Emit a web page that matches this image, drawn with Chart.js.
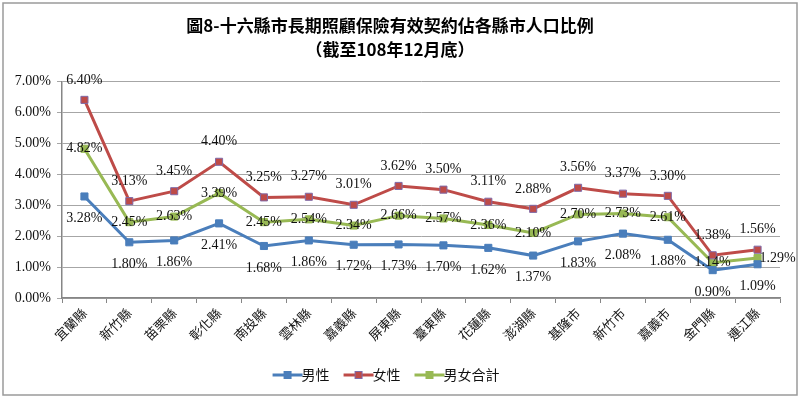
<!DOCTYPE html>
<html>
<head>
<meta charset="utf-8">
<script src="https://cdn.jsdelivr.net/npm/chart.js@4.4.1/dist/chart.umd.min.js"></script>
<style>
  html, body { margin: 0; padding: 0; background: #fff; }
  #wrap { width: 800px; height: 397px; }
</style>
</head>
<body>
<div id="wrap"><canvas id="chart" width="800" height="397"></canvas></div>
<script>
const titleLines = ['圖8-十六縣市長期照顧保險有效契約佔各縣市人口比例', '（截至108年12月底）'];
const counties = ['宜蘭縣', '新竹縣', '苗栗縣', '彰化縣', '南投縣', '雲林縣', '嘉義縣', '屏東縣',
                  '臺東縣', '花蓮縣', '澎湖縣', '基隆市', '新竹市', '嘉義市', '金門縣', '連江縣'];
const seriesNames = ['男性', '女性', '男女合計'];
const male   = [3.28, 1.80, 1.86, 2.41, 1.68, 1.86, 1.72, 1.73, 1.70, 1.62, 1.37, 1.83, 2.08, 1.88, 0.90, 1.09];
const female = [6.40, 3.13, 3.45, 4.40, 3.25, 3.27, 3.01, 3.62, 3.50, 3.11, 2.88, 3.56, 3.37, 3.30, 1.38, 1.56];
const total  = [4.82, 2.45, 2.63, 3.39, 2.45, 2.54, 2.34, 2.66, 2.57, 2.36, 2.10, 2.70, 2.73, 2.61, 1.14, 1.29];
const yMin = 0, yMax = 7, yStep = 1;

const colors = {
    male: '#4A7EBB',
    female: '#BE4B48',
    total: '#98B954',
    grid: '#A6A6A6',
    axis: '#868686',
    text: '#111'
};

const serif = '"Liberation Serif", "DejaVu Serif", serif';
const cjk = '"Noto Sans CJK TC", "Noto Sans CJK SC", sans-serif';

// little legend swatch: line with a square marker, like the Excel legend
function legendSwatch(color, border) {
    const c = document.createElement('canvas');
    c.width = 32; c.height = 12;
    const g = c.getContext('2d');
    g.strokeStyle = color;
    g.lineWidth = 3;
    g.beginPath(); g.moveTo(1, 6); g.lineTo(31, 6); g.stroke();
    g.fillStyle = color;
    g.fillRect(12, 2, 8, 8);
    g.strokeStyle = border; g.lineWidth = 1;
    g.strokeRect(12.5, 2.5, 7, 7);
    return c;
}

// labels next to each point
const pointLabels = {
    id: 'pointLabels',
    afterDatasetsDraw(chart) {
        const ctx = chart.ctx;
        ctx.save();
        ctx.font = '14px ' + serif;
        ctx.fillStyle = colors.text;
        ctx.textBaseline = 'middle';
        chart.data.datasets.forEach((ds, di) => {
            const meta = chart.getDatasetMeta(di);
            meta.data.forEach((pt, i) => {
                const txt = ds.data[i].toFixed(2) + '%';
                let dx = 0, dy = 0;
                ctx.textAlign = 'center';
                if (di === 0) dy = 22;
                else if (di === 1) dy = -20;
                if (di === 2 && i === ds.data.length - 1) { ctx.textAlign = 'left'; dx = 2; }
                ctx.fillText(txt, pt.x + dx, pt.y + dy);
            });
        });
        ctx.restore();
    }
};

const frame = {
    id: 'frame',
    beforeDraw(chart) {
        const ctx = chart.ctx;
        ctx.save();
        ctx.fillStyle = '#fff';
        ctx.fillRect(0, 0, chart.width, chart.height);
        ctx.strokeStyle = '#9a9a9a';
        ctx.lineWidth = 1.5;
        ctx.strokeRect(3, 3, chart.width - 6, chart.height - 5);
        ctx.restore();
    }
};

function lineSet(label, data, color, border) {
    return {
        label: label,
        data: data,
        borderColor: color,
        backgroundColor: color,
        borderWidth: 3,
        pointStyle: 'rect',
        pointRadius: 5,
        pointBackgroundColor: color,
        pointBorderColor: border,
        pointBorderWidth: 1,
        tension: 0,
        fill: false
    };
}

const swatches = [
    legendSwatch(colors.male, '#4A7EBB'),
    legendSwatch(colors.female, '#7F6AA8'),
    legendSwatch(colors.total, '#98B954')
];

new Chart(document.getElementById('chart').getContext('2d'), {
    type: 'line',
    data: {
        labels: counties,
        datasets: [
            lineSet(seriesNames[0], male, colors.male, '#4A7EBB'),
            lineSet(seriesNames[1], female, colors.female, '#7F6AA8'),
            lineSet(seriesNames[2], total, colors.total, '#98B954')
        ]
    },
    options: {
        responsive: false,
        animation: false,
        devicePixelRatio: 1,
        layout: { padding: { left: 0, right: 20, top: 0, bottom: 5 } },
        plugins: {
            title: {
                display: true,
                text: titleLines,
                color: '#000',
                font: { family: cjk, size: 17, weight: 'bold', lineHeight: 1.45 },
                padding: { top: 13, bottom: 19 }
            },
            legend: {
                position: 'bottom',
                labels: {
                    color: colors.text,
                    font: { family: cjk, size: 14 },
                    usePointStyle: true,
                    padding: 22,
                    generateLabels(chart) {
                        const items = Chart.defaults.plugins.legend.labels.generateLabels(chart);
                        items.forEach((it, i) => { it.pointStyle = swatches[i]; });
                        return items;
                    }
                }
            },
            tooltip: { enabled: false }
        },
        scales: {
            x: {
                offset: true,
                grid: {
                    offset: true,
                    drawOnChartArea: false,
                    drawTicks: true,
                    tickLength: 5,
                    color: colors.axis
                },
                border: { color: colors.axis, width: 1.5 },
                ticks: {
                    color: colors.text,
                    font: { family: cjk, size: 13 },
                    minRotation: 45,
                    maxRotation: 45,
                    autoSkip: false,
                    padding: 2
                },
                afterFit(scale) { scale.height = 48; }
            },
            y: {
                min: yMin,
                max: yMax,
                grid: {
                    color: colors.grid,
                    tickLength: 5,
                    lineWidth: 1
                },
                border: { color: colors.axis, width: 1.5 },
                ticks: {
                    stepSize: yStep,
                    color: colors.text,
                    font: { family: serif, size: 14 },
                    padding: 6,
                    callback: v => v.toFixed(2) + '%'
                },
                afterFit(scale) { scale.width = 62; }
            }
        }
    },
    plugins: [frame, pointLabels]
});
</script>
</body>
</html>
